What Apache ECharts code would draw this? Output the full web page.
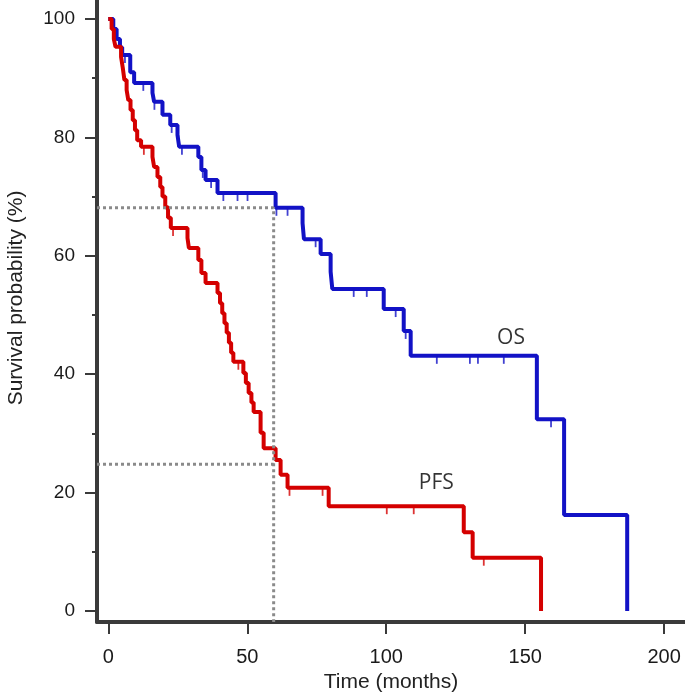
<!DOCTYPE html>
<html>
<head>
<meta charset="utf-8">
<script src="https://cdn.jsdelivr.net/npm/echarts@6/dist/echarts.min.js"></script>
<style>
html,body{margin:0;padding:0;background:#fff;}
#chart{width:685px;height:694px;}
</style>
</head>
<body>
<div id="chart"></div>
<script>
// ---- data ----
const xTickValues = [0, 50, 100, 150, 200];
const yTickValues = [0, 20, 40, 60, 80, 100];
const yMinorTickValues = [10, 30, 50, 70, 90];

// Overall survival: [time (months), survival (%)] after each event
const osSteps = [
  [0,100],[1.8,98.3],[3.0,96.6],[4.2,95.2],[5.0,93.9],[7.9,91.0],[9.3,89.2],
  [15.9,87.5],[16.5,86.0],[19.5,83.8],[22.3,82.1],[24.9,80.4],[25.5,78.4],
  [32.4,76.7],[33.5,74.5],[35.0,72.8],[39.3,70.6],[60.2,68.1],[69.9,65.5],
  [70.4,62.8],[76.4,60.3],[80.0,57.3],[80.6,54.4],[99.1,51.0],[106.3,47.3],
  [108.8,43.1],[154.2,32.4],[164.0,16.2],[186.7,0]
];
const osCensorTimes = [6.0,12.6,16.6,22.8,25.2,26.5,34.0,37.0,41.4,46.5,50.1,60.5,64.5,74.6,88.3,93.0,103.4,107.0,118.2,130.1,133.0,142.3,159.3];

// Progression-free survival
const pfsSteps = [
  [0,100],[1.2,98.3],[2.0,96.6],[2.6,95.3],[4.6,93.6],[5.2,91.8],[5.8,89.7],
  [6.6,88.0],[7.2,86.3],[8.0,84.6],[8.8,82.9],[9.6,81.2],[10.4,79.5],[11.8,78.4],
  [15.9,76.7],[16.5,75.0],[17.7,73.3],[18.7,71.6],[19.5,70.0],[20.5,68.2],
  [21.5,66.4],[22.5,64.7],[28.5,63.0],[29.0,61.3],[32.4,59.3],[33.5,57.1],
  [35.0,55.4],[39.3,53.7],[40.2,52.0],[41.0,50.3],[41.8,48.6],[42.6,47.0],
  [43.4,45.3],[44.2,43.6],[45.0,42.1],[48.6,40.2],[49.5,38.5],[50.5,36.8],
  [51.5,35.2],[52.3,33.6],[54.8,30.1],[55.9,27.5],[60.2,25.5],[62.0,23.0],
  [64.5,20.8],[79.3,17.7],[127.9,13.3],[131.1,9.0],[155.7,0]
];
const pfsCensorTimes = [12.8,23.3,46.8,65.2,77.1,100.2,109.9,135.1];

// 5-year reference lines
const refTime = 59.5;
const refOS = 68.1;
const refPFS = 24.8;

const curveLabels = [
  {name:'OS', value:[144.9, 46.1]},
  {name:'PFS', value:[118.0, 21.6]}
];

// ---- build ----
const X_MIN = -4.06, X_MAX = 207.5, Y_MIN = -1.86, Y_MAX = 103.2;

function survAt(steps, t) {
  let v = steps[0][1];
  for (const p of steps) { if (p[0] <= t) v = p[1]; else break; }
  return v;
}
const osCensor = osCensorTimes.map(t => [t, survAt(osSteps, t)]);
const pfsCensor = pfsCensorTimes.map(t => [t, survAt(pfsSteps, t)]);

const BLUE = '#1212c6';
const RED = '#d40000';
const AXIS = '#3a3a3a';
const FONT = 'Liberation Sans, Arial, sans-serif';

const chart = echarts.init(document.getElementById('chart'), null, {renderer:'canvas'});
chart.setOption({
  animation: false,
  backgroundColor: '#fff',
  grid: {left: 97, right: 0, top: 0, bottom: 72, containLabel: false, outerBoundsMode: 'none'},
  xAxis: {
    type: 'value', min: X_MIN, max: X_MAX,
    splitLine: {show: false},
    axisLine: {show: true, onZero: false, lineStyle: {color: AXIS, width: 4}},
    axisTick: {show: true, length: 12, lineStyle: {color: AXIS, width: 2}, customValues: xTickValues},
    axisLabel: {show: true, margin: 25, fontSize: 20, color: '#1a1a1a', fontFamily: FONT, customValues: xTickValues},
    name: 'Time (months)', nameLocation: 'middle', nameGap: 50,
    nameTextStyle: {fontSize: 21, color: '#222', fontFamily: FONT}
  },
  yAxis: [{
    type: 'value', min: Y_MIN, max: Y_MAX,
    splitLine: {show: false},
    axisLine: {show: true, onZero: false, lineStyle: {color: AXIS, width: 4}},
    axisTick: {show: true, length: 12, lineStyle: {color: AXIS, width: 2}, customValues: yTickValues},
    axisLabel: {show: true, margin: 22, fontSize: 19, color: '#1a1a1a', fontFamily: FONT, customValues: yTickValues},
    name: 'Survival probability (%)', nameLocation: 'middle', nameGap: 70,
    nameTextStyle: {fontSize: 21, color: '#222', fontFamily: FONT, padding: [0,0,0,26]}
  },{
    type: 'value', min: Y_MIN, max: Y_MAX, position: 'left',
    splitLine: {show: false},
    axisLine: {show: false, onZero: false},
    axisTick: {show: true, length: 5, lineStyle: {color: AXIS, width: 2}, customValues: yMinorTickValues},
    axisLabel: {show: false}
  }],
  series: [
    {
      type: 'line', step: 'end', data: osSteps, showSymbol: false, symbol: 'none',
      lineStyle: {color: BLUE, width: 4}, z: 2
    },
    {
      type: 'scatter', data: osCensor, symbol: 'rect', symbolSize: [1.8, 8], symbolOffset: [0, 4],
      itemStyle: {color: BLUE}, z: 2
    },
    {
      type: 'line', step: 'end', data: pfsSteps, showSymbol: false, symbol: 'none',
      lineStyle: {color: RED, width: 4}, z: 3
    },
    {
      type: 'scatter', data: pfsCensor, symbol: 'rect', symbolSize: [1.8, 8], symbolOffset: [0, 4],
      itemStyle: {color: RED}, z: 3
    },
    {
      type: 'line', data: [[X_MIN, refOS], [refTime, refOS], [refTime, Y_MIN]], showSymbol: false, symbol: 'none',
      lineStyle: {color: '#8a8a8a', width: 3, type: [3, 3]}, z: 4
    },
    {
      type: 'line', data: [[X_MIN, refPFS], [refTime, refPFS]], showSymbol: false, symbol: 'none',
      lineStyle: {color: '#8a8a8a', width: 3, type: [3, 3]}, z: 4
    },
    {
      type: 'scatter', data: curveLabels, symbolSize: 0, itemStyle: {color: 'transparent'},
      label: {show: true, position: 'inside', formatter: p => p.name, fontSize: 21, color: '#000',
              textBorderWidth: 0, textBorderColor: 'transparent', textShadowBlur: 0,
              fontFamily: 'Open Sans, Noto Sans, sans-serif'},
      z: 5
    }
  ]
});
</script>
</body>
</html>
